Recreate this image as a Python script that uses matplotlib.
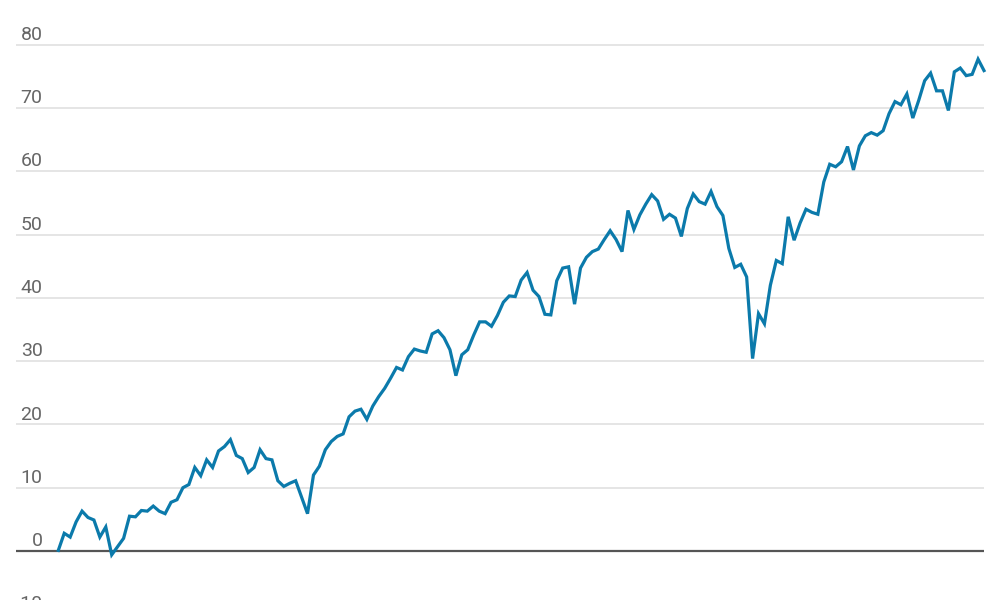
import matplotlib
matplotlib.use("Agg")
import matplotlib.pyplot as plt
from matplotlib.transforms import blended_transform_factory
from matplotlib import font_manager

values = [
    0.1, 2.8, 2.2, 4.6, 6.3, 5.3, 4.9, 2.2, 3.8, -0.6,
    0.7, 2.0, 5.5, 5.4, 6.4, 6.3, 7.1, 6.3, 5.9, 7.7,
    8.1, 10.0, 10.5, 13.2, 11.9, 14.4, 13.2, 15.8, 16.5, 17.6,
    15.1, 14.6, 12.4, 13.2, 16.0, 14.6, 14.4, 11.1, 10.2, 10.7,
    11.1, 8.5, 5.9, 12.0, 13.4, 16.0, 17.3, 18.1, 18.5, 21.2,
    22.1, 22.4, 20.8, 22.9, 24.4, 25.7, 27.3, 29.0, 28.6, 30.7,
    31.9, 31.6, 31.4, 34.3, 34.8, 33.7, 31.8, 27.7, 31.0, 31.8,
    34.1, 36.2, 36.2, 35.5, 37.2, 39.3, 40.3, 40.2, 42.8, 44.0,
    41.2, 40.2, 37.4, 37.3, 42.7, 44.7, 44.9, 39.0, 44.7, 46.4,
    47.3, 47.7, 49.2, 50.6, 49.2, 47.3, 53.8, 50.8, 53.1, 54.8,
    56.3, 55.3, 52.4, 53.2, 52.6, 49.7, 54.1, 56.4, 55.2, 54.8,
    56.8, 54.4, 53.0, 47.8, 44.8, 45.3, 43.3, 30.4, 37.5, 35.9,
    42.0, 45.9, 45.4, 52.8, 49.1, 51.8, 54.0, 53.5, 53.2, 58.3,
    61.1, 60.7, 61.5, 63.9, 60.2, 64.0, 65.6, 66.1, 65.7, 66.4,
    69.1, 71.0, 70.5, 72.2, 68.4, 71.2, 74.3, 75.5, 72.7, 72.7,
    69.6, 75.7, 76.3, 75.1, 75.3, 77.7, 75.9,
]
yticks = [-10, 0, 10, 20, 30, 40, 50, 60, 70, 80]
ytick_labels = ["−10", "0", "10", "20", "30", "40", "50", "60", "70", "80"]

installed = {f.name for f in font_manager.fontManager.ttflist}
fam = [f for f in ["Liberation Sans Narrow", "Roboto", "DejaVu Sans"] if f in installed]

fig = plt.figure(figsize=(10, 6), dpi=100)
ax = fig.add_axes([0.016, 0.0, 0.968, 1.0])
x = list(range(len(values)))

ax.set_xlim(-7.13, len(values) - 1)
ax.set_ylim(-7.74, 87.05)

for t in yticks:
    if t == 0:
        ax.axhline(t, color="#555555", lw=1.6, zorder=2)
    else:
        ax.axhline(t, color="#e3e3e3", lw=1.3, zorder=1)

ax.plot(x, values, color="#0b7aab", lw=2.3, solid_joinstyle="miter", zorder=3, clip_on=False)

trans = blended_transform_factory(fig.transFigure, ax.transData)
for t, lab in zip(yticks, ytick_labels):
    ax.annotate(lab, xy=(0.0425, t), xycoords=trans, xytext=(0, 3.5),
                textcoords="offset points", ha="right", va="baseline",
                fontsize=14, color="#666666", family=fam, annotation_clip=False)

ax.axis("off")
fig.savefig("out.png", dpi=100)
